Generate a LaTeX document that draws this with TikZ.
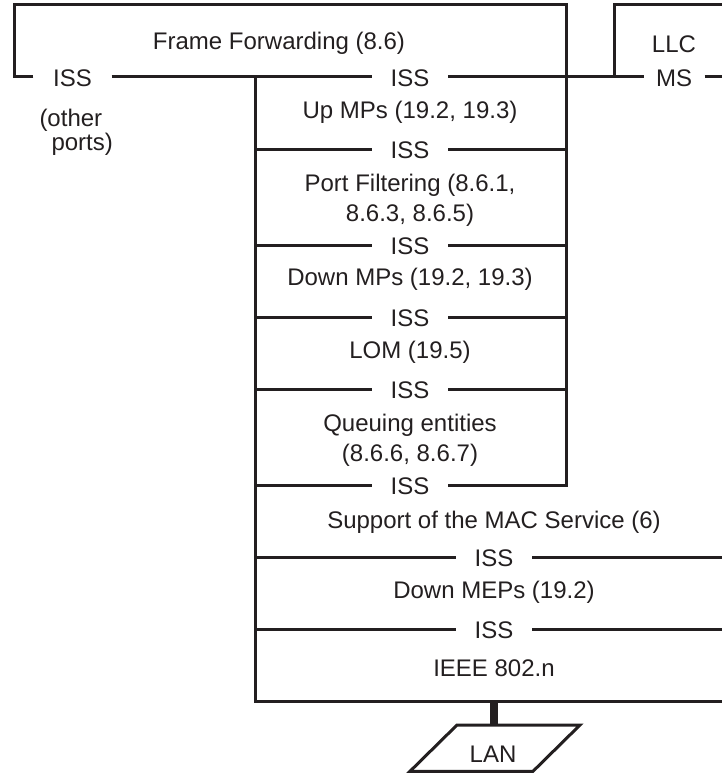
\documentclass[tikz,border=0pt]{standalone}
\usepackage{fontspec}
\setmainfont{Liberation Sans}
\definecolor{ink}{HTML}{231F20}
\begin{document}
\begin{tikzpicture}[x=1pt,y=-1pt,line width=3pt,color=ink,
  every node/.style={font=\fontsize{24}{30}\selectfont,inner sep=0pt},
  lbl/.style={anchor=base},
  lbl2/.style={anchor=north,align=center},
  iss/.style={anchor=base,inner xsep=17.2pt}]
\useasboundingbox (0,0) rectangle (722,773);
% row coordinates
\coordinate (r0) at (255,77);
\coordinate (r1) at (255,149);
\coordinate (r2) at (255,245);
\coordinate (r3) at (255,317);
\coordinate (r4) at (255,389);
\coordinate (r5) at (255,485);
\coordinate (r6) at (255,557);
\coordinate (r7) at (255,629);
\coordinate (r8) at (255,701);
\coordinate (ffTL) at (14,5);
\coordinate (ffTR) at (566,5);
\coordinate (colBR) at (566,485);
\coordinate (colR) at (566,0);
\coordinate (edgeR) at (722,0);
\coordinate (llcB) at (614,77);
\coordinate (llcT) at (614,5);
\coordinate (edgeT) at (722,5);
\coordinate (stemTop) at (494,701);
\coordinate (lanT) at (494,725);
\coordinate (p1) at (457,725);
\coordinate (p2) at (580,725);
\coordinate (p3) at (533,771.3);
\coordinate (p4) at (410,771.3);
% texts
\node[lbl] (ff) at (279,50) {Frame Forwarding (8.6)};
\node[lbl] (llc) at (674,53) {LLC};
\node[iss,inner xsep=18.2pt] (iss0) at (72.5,87) {ISS};
\node[anchor=base west] (oth1) at (38,127) {(other};
\node[anchor=base west] (oth2) at (50,150) {ports)};
\node[iss] (iss1) at (410,87) {ISS};
\node[iss,inner xsep=11pt] (ms) at (674,87) {MS};
\node[lbl] (up) at (410,118) {Up MPs (19.2, 19.3)};
\node[iss] (iss2) at (410,158.5) {ISS};
\node[lbl2] (pf) at (410,172.7) {Port Filtering (8.6.1,\\8.6.3, 8.6.5)};
\node[iss] (iss3) at (410,254.5) {ISS};
\node[lbl] (dmp) at (410,285) {Down MPs (19.2, 19.3)};
\node[iss] (iss4) at (410,326.5) {ISS};
\node[lbl] (lom) at (410,358) {LOM (19.5)};
\node[iss] (iss5) at (410,398.5) {ISS};
\node[lbl2] (que) at (410,412.7) {Queuing entities\\(8.6.6, 8.6.7)};
\node[iss] (iss6) at (410,494) {ISS};
\node[lbl] (sup) at (494,528) {Support of the MAC Service (6)};
\node[iss] (iss7) at (494,566.5) {ISS};
\node[lbl] (mep) at (494,598) {Down MEPs (19.2)};
\node[iss] (iss8) at (494,638.5) {ISS};
\node[lbl] (ieee) at (494,676) {IEEE 802.n};
\node[lbl] (lan) at (493,762) {LAN};
% Frame Forwarding box and column right side
\draw (r0 -| iss0.west) -| (ffTL) -- (ffTR) -- (colBR) -- (iss6.east |- colBR);
\draw (iss0.east |- r0) -- (iss1.west |- r0);
\draw (iss1.east |- r0) -- (ms.west |- r0);
\draw (ms.east |- r0) -- (edgeR |- r0);
% LLC box
\draw (llcB) -- (llcT) -- (edgeT);
% column rows
\foreach \r/\n in {r1/iss2,r2/iss3,r3/iss4,r4/iss5}{
  \draw (\r) -- (\n.west |- \r);
  \draw (\n.east |- \r) -- (colR |- \r);
}
\draw (r5) -- (iss6.west |- r5);
\foreach \r/\n in {r6/iss7,r7/iss8}{
  \draw (\r) -- (\n.west |- \r);
  \draw (\n.east |- \r) -- (edgeR |- \r);
}
\draw (r0) -- (r8) -- (edgeR |- r8);
% LAN
\draw[line width=8.3pt] (stemTop) -- (lanT);
\draw (p1) -- (p2) -- (p3) -- (p4) -- cycle;
\end{tikzpicture}
\end{document}
